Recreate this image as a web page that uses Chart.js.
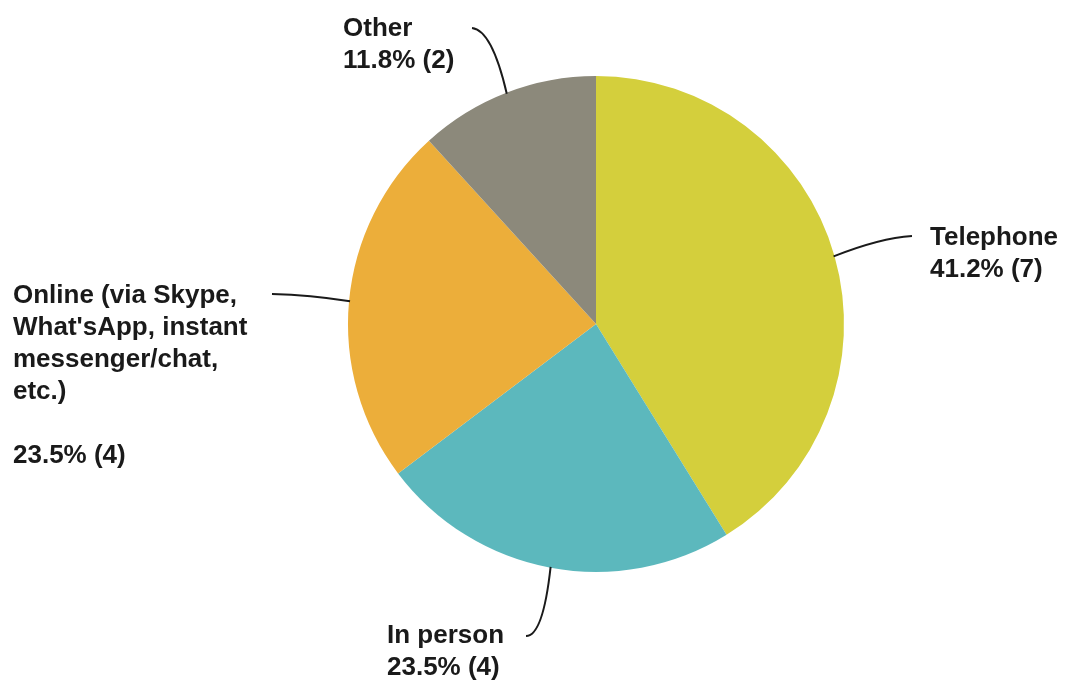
<!DOCTYPE html>
<html>
<head>
<meta charset="utf-8">
<script src="https://cdn.jsdelivr.net/npm/chart.js@4"></script>
<style>
  html, body { margin: 0; padding: 0; background: #fff; }
  #wrap { width: 1066px; height: 681px; }
</style>
</head>
<body>
<div id="wrap"><canvas id="grafico" width="1066" height="681"></canvas></div>
<script>
// dados do gráfico
const categorias = ['Telephone', 'In person', 'Online (via Skype, What\'sApp, instant messenger/chat, etc.)', 'Other'];
const valores = [7, 4, 4, 2];
const cores = ['#d4cf3c', '#5cb8bd', '#ecae3a', '#8c897b'];

// linhas de texto de cada rótulo (quebras como no original)
const linhasRotulo = [
  ['Telephone'],
  ['In person'],
  ['Online (via Skype,', 'What\'sApp, instant', 'messenger/chat,', 'etc.)', ''],
  ['Other']
];

// posição dos rótulos e controle da curva da linha guia
const posRotulo = [
  { x: 930, y: 245, fim: [912, 236], ctrl: [880, 238] },
  { x: 387, y: 643, fim: [526, 636], ctrl: [543, 636] },
  { x: 13, y: 303, fim: [272, 294], ctrl: [310, 295] },
  { x: 343, y: 36, fim: [472, 28], ctrl: [492, 30] }
];

const total = valores.reduce((a, b) => a + b, 0);
const formatarPct = (v) => (v / total * 100).toFixed(1) + '% (' + v + ')';

const rotulosPlugin = {
  id: 'rotulos',
  afterDraw(chart) {
    const ctx = chart.ctx;
    const arcos = chart.getDatasetMeta(0).data;
    ctx.save();
    arcos.forEach((arc, i) => {
      const { x, y, startAngle, endAngle, outerRadius } = arc.getProps(['x', 'y', 'startAngle', 'endAngle', 'outerRadius'], true);
      const meio = (startAngle + endAngle) / 2;
      const ax = x + Math.cos(meio) * (outerRadius - 1);
      const ay = y + Math.sin(meio) * (outerRadius - 1);
      const p = posRotulo[i];

      // linha guia
      ctx.strokeStyle = '#1a1a1a';
      ctx.lineWidth = 2;
      ctx.beginPath();
      ctx.moveTo(ax, ay);
      ctx.quadraticCurveTo(p.ctrl[0], p.ctrl[1], p.fim[0], p.fim[1]);
      ctx.stroke();

      // texto
      ctx.fillStyle = '#1a1a1a';
      ctx.font = 'bold 26px Arial, "Liberation Sans", sans-serif';
      ctx.textBaseline = 'alphabetic';
      ctx.textAlign = 'left';
      const linhas = linhasRotulo[i].concat([formatarPct(valores[i])]);
      linhas.forEach((l, j) => ctx.fillText(l, p.x, p.y + j * 32));
    });
    ctx.restore();
  }
};

new Chart(document.getElementById('grafico').getContext('2d'), {
  type: 'pie',
  data: {
    labels: categorias,
    datasets: [{
      data: valores,
      backgroundColor: cores,
      borderWidth: 0
    }]
  },
  options: {
    responsive: false,
    animation: false,
    layout: { padding: { left: 348, right: 222, top: 76, bottom: 109 } },
    plugins: {
      legend: { display: false },
      tooltip: { enabled: false }
    }
  },
  plugins: [rotulosPlugin]
});
</script>
</body>
</html>
